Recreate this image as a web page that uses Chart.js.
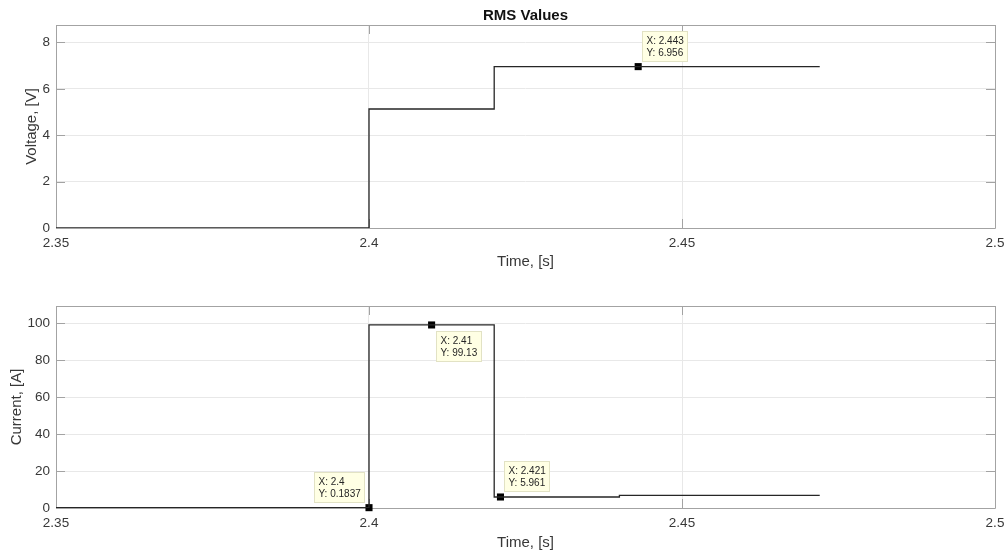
<!DOCTYPE html>
<html>
<head>
<meta charset="utf-8">
<title>RMS Values</title>
<script src="https://cdn.jsdelivr.net/npm/chart.js@4.4.0/dist/chart.umd.min.js"></script>
<style>
  html, body { margin: 0; padding: 0; background: #fff; }
  #wrap { position: relative; width: 1008px; height: 554px; }
  #voltage-chart { position: absolute; left: 0; top: 0; }
  #current-chart { position: absolute; left: 0; top: 280px; }
</style>
</head>
<body>
<div id="wrap">
  <canvas id="voltage-chart" width="1008" height="280"></canvas>
  <canvas id="current-chart" width="1008" height="274"></canvas>
</div>
<script>
// Voltage trace (step samples)
const voltageTime = [2.35, 2.4, 2.4, 2.42, 2.42, 2.472];
const voltageValue = [0, 0, 5.13, 5.13, 6.956, 6.956];

// Current trace (step samples)
const currentTime = [2.35, 2.4, 2.4, 2.42, 2.42, 2.44, 2.44, 2.472];
const currentValue = [0.1837, 0.1837, 99.13, 99.13, 5.961, 5.961, 6.8, 6.8];

// Data tips
const voltageTipX = [2.443];
const voltageTipY = [6.956];
const currentTipX = [2.4, 2.41, 2.421];
const currentTipY = [0.1837, 99.13, 5.961];

// Tick labels and limits
const timeTicks = [2.35, 2.4, 2.45, 2.5];
const voltageTicks = [0, 2, 4, 6, 8];
const currentTicks = [0, 20, 40, 60, 80, 100];
const timeRange = [2.35, 2.5];
const voltageRange = [0, 8.75];
const currentRange = [0, 109.4];

// which corner of the marker each tip box sits at
const voltageTipSide = ['ne'];
const currentTipSide = ['nw', 'se', 'ne'];

const FONT = 'Liberation Sans, Arial, Helvetica, sans-serif';
const BOX_COLOR = '#a3a3a3';
const TEXT_COLOR = '#383838';
Chart.defaults.font.family = FONT;
Chart.defaults.color = TEXT_COLOR;

function toPoints(xs, ys) {
    return xs.map((x, i) => ({ x: x, y: ys[i] }));
}

// Box round the plot area with ticks pointing inwards on all four sides
const framePlugin = {
    id: 'frame',
    beforeDatasetsDraw(chart) {
        const { ctx, chartArea: a, scales: { x, y } } = chart;
        const len = 9;
        ctx.save();
        ctx.strokeStyle = BOX_COLOR;
        ctx.lineWidth = 1;
        ctx.beginPath();
        x.ticks.forEach(t => {
            const px = Math.round(x.getPixelForValue(t.value)) + 0.5;
            ctx.moveTo(px, a.bottom); ctx.lineTo(px, a.bottom - len);
            ctx.moveTo(px, a.top); ctx.lineTo(px, a.top + len);
        });
        y.ticks.forEach(t => {
            const py = Math.round(y.getPixelForValue(t.value)) + 0.5;
            ctx.moveTo(a.left, py); ctx.lineTo(a.left + len, py);
            ctx.moveTo(a.right, py); ctx.lineTo(a.right - len, py);
        });
        ctx.rect(Math.round(a.left) + 0.5, Math.round(a.top) + 0.5,
                 Math.round(a.width), Math.round(a.height));
        ctx.stroke();
        ctx.restore();
    }
};

// Data tip boxes next to the marker dataset
const tipPlugin = {
    id: 'tips',
    afterDraw(chart, args, opts) {
        if (!opts.xs) return;
        const { ctx } = chart;
        const meta = chart.getDatasetMeta(1);
        ctx.save();
        ctx.font = '10px ' + FONT;
        meta.data.forEach((pt, i) => {
            const lines = ['X: ' + opts.xs[i], 'Y: ' + opts.ys[i]];
            const w = Math.round(Math.max(...lines.map(l => ctx.measureText(l).width)) + 9);
            const h = 31;
            const side = opts.sides[i];
            const bx = Math.round(side.includes('e') ? pt.x + 4 : pt.x - 4 - w);
            const by = Math.round(side.includes('n') ? pt.y - 5 - h : pt.y + 6);
            ctx.fillStyle = '#ffffe4';
            ctx.fillRect(bx, by, w, h);
            ctx.strokeStyle = '#e2e2c4';
            ctx.lineWidth = 1;
            ctx.strokeRect(bx + 0.5, by + 0.5, w - 1, h - 1);
            ctx.fillStyle = '#262626';
            ctx.textBaseline = 'middle';
            ctx.textAlign = 'left';
            ctx.fillText(lines[0], bx + 4.5, by + 10);
            ctx.fillText(lines[1], bx + 4.5, by + 22.5);
        });
        ctx.restore();
    }
};

// Figure title above the top axes
const titlePlugin = {
    id: 'figTitle',
    afterDraw(chart, args, opts) {
        if (!opts.text) return;
        const { ctx, chartArea: a } = chart;
        ctx.save();
        ctx.font = 'bold 15px ' + FONT;
        ctx.fillStyle = '#111';
        ctx.textAlign = 'center';
        ctx.textBaseline = 'middle';
        ctx.fillText(opts.text, (a.left + a.right) / 2, 15.5);
        ctx.restore();
    }
};

function makeChart(canvasId, cfg) {
    return new Chart(document.getElementById(canvasId), {
        type: 'line',
        data: {
            datasets: [{
                data: toPoints(cfg.time, cfg.value),
                borderColor: '#262626',
                borderWidth: 1.3,
                pointRadius: 0,
                fill: false,
                tension: 0
            }, {
                data: toPoints(cfg.tipX, cfg.tipY),
                showLine: false,
                pointStyle: 'rect',
                pointRadius: 5,
                pointBackgroundColor: '#000',
                pointBorderColor: '#000',
                pointBorderWidth: 0,
                clip: false
            }]
        },
        options: {
            responsive: false,
            animation: false,
            events: [],
            layout: { padding: { top: cfg.padTop, right: 13, left: 0, bottom: 0 } },
            plugins: {
                legend: { display: false },
                tooltip: { enabled: false },
                tips: { xs: cfg.tipX, ys: cfg.tipY, sides: cfg.tipSide },
                figTitle: { text: cfg.title }
            },
            scales: {
                x: {
                    type: 'linear',
                    min: timeRange[0],
                    max: timeRange[1],
                    afterBuildTicks: s => { s.ticks = timeTicks.map(v => ({ value: v })); },
                    afterFit: s => {
                        s.height = cfg.xAxisHeight;
                        s.paddingLeft = 0;
                        s.paddingRight = 0;
                    },
                    ticks: {
                        callback: v => String(v),
                        font: { size: 13.5 },
                        padding: 7,
                        maxRotation: 0,
                        autoSkip: false
                    },
                    grid: { color: '#e8e8e8', drawTicks: false },
                    border: { display: false },
                    title: {
                        display: true,
                        text: 'Time, [s]',
                        font: { size: 15 },
                        padding: { top: 0, bottom: cfg.xTitlePad }
                    }
                },
                y: {
                    type: 'linear',
                    min: cfg.range[0],
                    max: cfg.range[1],
                    afterBuildTicks: s => { s.ticks = cfg.ticks.map(v => ({ value: v })); },
                    afterFit: s => { s.width = 56; },
                    ticks: {
                        callback: v => String(v),
                        font: { size: 13.5 },
                        padding: 6
                    },
                    grid: { color: '#e8e8e8', drawTicks: false },
                    border: { display: false },
                    title: {
                        display: true,
                        text: cfg.yLabel,
                        font: { size: 15 },
                        padding: { top: cfg.yTitlePad, bottom: 0 }
                    }
                }
            }
        },
        plugins: [framePlugin, tipPlugin, titlePlugin]
    });
}

makeChart('voltage-chart', {
    time: voltageTime, value: voltageValue,
    tipX: voltageTipX, tipY: voltageTipY, tipSide: voltageTipSide,
    ticks: voltageTicks, range: voltageRange,
    yLabel: 'Voltage, [V]', title: 'RMS Values',
    padTop: 25, xAxisHeight: 52, xTitlePad: 9, yTitlePad: 23
});

makeChart('current-chart', {
    time: currentTime, value: currentValue,
    tipX: currentTipX, tipY: currentTipY, tipSide: currentTipSide,
    ticks: currentTicks, range: currentRange,
    yLabel: 'Current, [A]', title: '',
    padTop: 26, xAxisHeight: 46, xTitlePad: 2, yTitlePad: 8
});
</script>
</body>
</html>
